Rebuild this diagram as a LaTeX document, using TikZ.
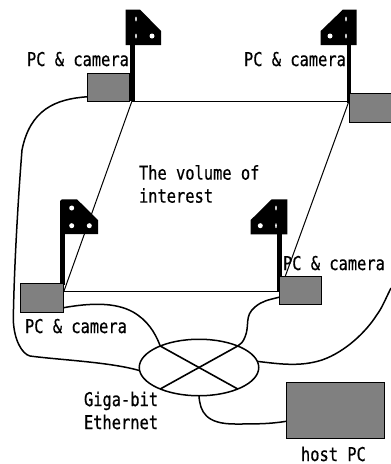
\documentclass[tikz,border=0pt]{standalone}
\usepackage{fontspec}
\usetikzlibrary{shapes.geometric}
\newfontfamily\labelfont[FakeStretch=0.81,FakeBold=0.6]{DejaVu Sans Mono}
\tikzset{
  x=1pt,y=-1pt,
  pcbox/.style={draw=black,line width=1pt,fill=black!50,rectangle,inner sep=0pt,outer sep=0pt},
  wire/.style={draw=black,line width=1.5pt},
  edgeline/.style={draw=black,line width=1pt},
  cross/.style={draw=black,line width=1.6pt},
  lbl/.style={inner sep=0pt,outer sep=0pt,anchor=base west,font=\labelfont\fontsize{19}{23}\selectfont},
  lbltwo/.style={inner sep=0pt,outer sep=0pt,anchor=west,align=left,font=\labelfont\fontsize{19}{23}\selectfont},
  hole/.style={fill=white,draw=none}
}
\begin{document}
\begin{tikzpicture}
\useasboundingbox (0,0) rectangle (391,464);
% corner posts
\coordinate (tl) at (132,101);
\coordinate (tr) at (349,101);
\coordinate (bl) at (64,291);
\coordinate (br) at (280,291);
\draw[edgeline] (tl) -- (tr);
\draw[edgeline] (bl) -- (br);
\draw[edgeline] (tl) -- (bl);
\draw[edgeline] (tr) -- (285,277);
% poles and cameras
\fill (130,45) rectangle (135,101);
\fill (125.5,9.5) -- (140,9.5) -- (161,31) -- (161,45) -- (125.5,45) -- cycle;
\fill[hole] (136,19) ellipse (0.8 and 2.5);
\fill[hole] (136,36) ellipse (0.8 and 2.5);
\fill[hole] (152,36) circle (2.5);
\fill (347,45) rectangle (351,103);
\fill (343,9.5) -- (356.7,9.5) -- (356.7,45) -- (320.7,45) -- (320.7,31) -- cycle;
\fill[hole] (346,19) ellipse (0.8 and 2.5);
\fill[hole] (346,36) ellipse (0.8 and 2.5);
\fill[hole] (330,36) circle (2.5);
\fill (60,233) rectangle (65,285);
\fill (62,199.3) -- (77,199.3) -- (98,220) -- (98,234) -- (60,234) -- (60,201) -- cycle;
\fill[hole] (71.7,208) circle (2.5);
\fill[hole] (71.7,225.7) circle (2.5);
\fill[hole] (89.3,225.7) circle (2.5);
\fill (276.7,234) rectangle (281.7,291);
\fill (271.7,199.3) -- (287.3,199.3) -- (287.3,234.3) -- (250.7,234.3) -- (250.7,220) -- cycle;
\fill[hole] (276,208) ellipse (0.8 and 2.5);
\fill[hole] (276,225.7) ellipse (0.8 and 2.5);
\fill[hole] (260.3,225.7) circle (2.5);
% boxes
\node[pcbox,minimum width=42pt,minimum height=28pt] (pctl) at (108,87) {};
\node[pcbox,minimum width=43pt,minimum height=29pt] (pctr) at (370.5,108.3) {};
\node[pcbox,minimum width=42.5pt,minimum height=28.5pt] (pcbl) at (42.2,297.8) {};
\node[pcbox,minimum width=42.5pt,minimum height=28pt] (pcbr) at (300.5,290.7) {};
\node[pcbox,minimum width=98pt,minimum height=56pt] (host) at (335,410) {};
% switch
\node[draw=black,line width=1.5pt,ellipse,minimum width=119.5pt,minimum height=56.5pt,inner sep=0pt,outer sep=0pt] (sw) at (199,367.5) {};
\draw[cross] (sw.151) -- (sw.331);
\draw[cross] (sw.29) -- (sw.209);
% cables
\coordinate (offright) at (391,288);
\draw[wire] (pctl.205) .. controls (55,99) and (30,110) .. (22,150)
  .. controls (18,200) and (14,270) .. (13.3,320)
  .. controls (14,340) and (22,354) .. (30,356)
  .. controls (60,360) and (110,362) .. (sw.183);
\draw[wire] (pcbl.-25) .. controls (90,303) and (115,302) .. (133,312)
  .. controls (147,320) and (155,332) .. (sw.151);
\draw[wire] (pcbr.197) .. controls (268,300) and (262,301) .. (255,307)
  .. controls (244,316) and (250,325) .. (245,337)
  .. controls (243,342) and (241,344) .. (sw.29);
\draw[wire] (offright) .. controls (385,300) and (382,308) .. (376.7,315)
  .. controls (366,332) and (345,352) .. (322,360)
  .. controls (300,367) and (280,364) .. (sw.6);
\draw[wire] (sw.south) .. controls (200,412) and (206,424) .. (235,424)
  .. controls (255,424) and (270,424) .. (host.193);
% labels
\node[lbl] (l1) at (27,66) {PC \& camera};
\node[lbl] (l2) at (244,66) {PC \& camera};
\node[lbl] (l3) at (25,333) {PC \& camera};
\node[lbl] (l4) at (283,270) {PC \& camera};
\node[lbltwo] (vol) at (139,184) {The volume of\\interest};
\node[lbltwo] (giga) at (84,410.5) {Giga-bit\\Ethernet};
\node[lbl] (hostl) at (301,461) {host PC};
\end{tikzpicture}
\end{document}
